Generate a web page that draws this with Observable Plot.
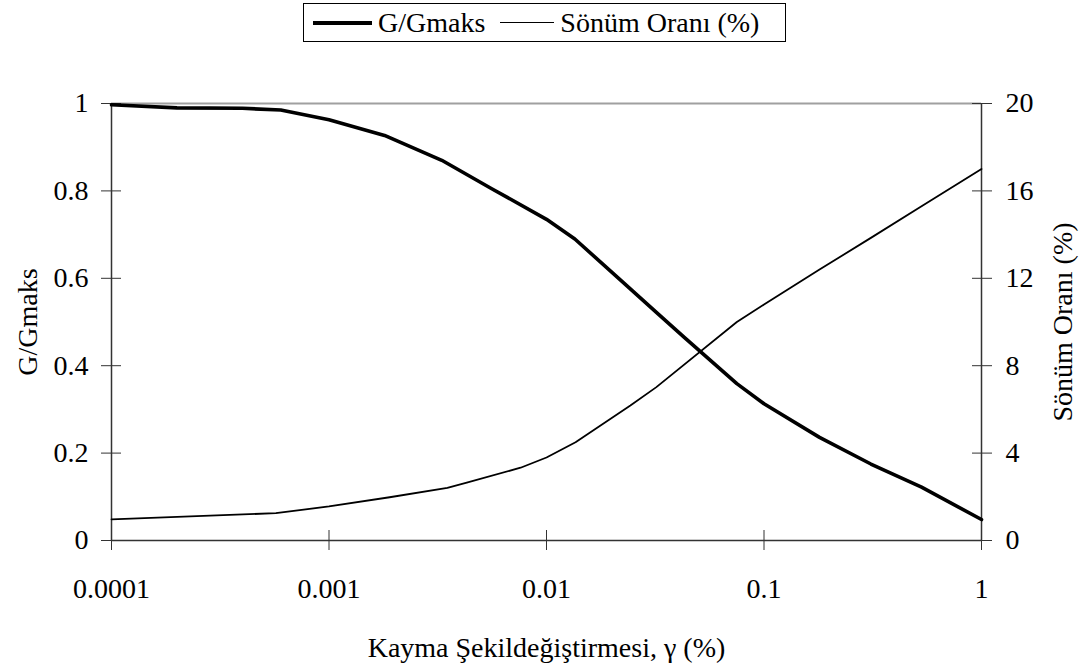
<!DOCTYPE html>
<html>
<head>
<meta charset="utf-8">
<script src="https://cdn.jsdelivr.net/npm/d3@7"></script>
<script src="https://cdn.jsdelivr.net/npm/@observablehq/plot@0.6"></script>
<style>
  html, body { margin: 0; padding: 0; background: #fff; }
  #wrap { position: relative; width: 1085px; height: 666px; font-family: "Liberation Serif", "Times New Roman", serif; }
  #legend { position: relative; height: 50px; }
  #legend .box { position: absolute; left: 303px; top: 3px; width: 481px; height: 37px; border: 1px solid #000;
    display: flex; align-items: center; font-size: 28px; color: #000; white-space: nowrap; }
  .sw { display: inline-block; background: #000; }
</style>
</head>
<body>
<div id="wrap">
  <div id="legend"><div class="box">
    <span class="sw" style="width:59px;height:4px;margin-left:9px;margin-right:6px"></span><span>G/Gmaks</span>
    <span class="sw" style="width:54px;height:1.6px;margin-left:15px;margin-right:6px"></span><span>Sönüm Oranı (%)</span>
  </div></div>
  <div id="chart"></div>
</div>
<script>
// Shear strain (%) and G/Gmax
const strainG = [0.0001, 0.0002, 0.0004, 0.0006, 0.001, 0.0018, 0.0033, 0.0056, 0.01, 0.0135, 0.024, 0.032, 0.043, 0.075, 0.1, 0.18, 0.31, 0.53, 1];
const gRatio  = [0.997, 0.990, 0.989, 0.985, 0.963, 0.927, 0.870, 0.805, 0.735, 0.690, 0.578, 0.522, 0.465, 0.359, 0.313, 0.236, 0.175, 0.122, 0.048];
// Shear strain (%) and damping ratio (%)
const strainD = [0.0001, 0.00057, 0.001, 0.0019, 0.0035, 0.0043, 0.0076, 0.01, 0.0136, 0.0243, 0.032, 0.075, 0.1, 0.18, 0.31, 0.53, 1];
const damping = [0.97, 1.25, 1.56, 1.98, 2.41, 2.65, 3.33, 3.8, 4.5, 6.18, 7.02, 10.0, 10.8, 12.4, 13.85, 15.3, 17.0];

const xTicks = [0.0001, 0.001, 0.01, 0.1, 1];
const xTickLabels = ["0.0001", "0.001", "0.01", "0.1", "1"];
const yLeftTicks = [0, 0.2, 0.4, 0.6, 0.8, 1];
const yLeftLabels = ["0", "0.2", "0.4", "0.6", "0.8", "1"];
const yRightLabels = ["0", "4", "8", "12", "16", "20"];
const dampMax = 20;

const gData = strainG.map((s, i) => ({s, v: gRatio[i]}));
const dData = strainD.map((s, i) => ({s, v: damping[i]}));

const axisColor = "#333";
const chart = Plot.plot({
  width: 1085,
  height: 616,
  marginLeft: 111,
  marginRight: 104,
  marginTop: 53,
  marginBottom: 126,
  style: {fontFamily: "'Liberation Serif', 'Times New Roman', serif", fontSize: "28px", color: "#000", background: "#fff"},
  x: {type: "log", domain: [0.0001, 1]},
  y: {domain: [0, 1]},
  marks: [
    Plot.ruleY([1], {stroke: "#a0a0a0", strokeWidth: 2}),
    // tick lines crossing the axes
    Plot.axisX({ticks: xTicks, tickSize: 20, dy: -10, tickFormat: () => "", stroke: axisColor, label: null}),
    Plot.axisY({ticks: yLeftTicks, tickSize: 20, dx: 10, tickFormat: () => "", stroke: axisColor, label: null}),
    Plot.axisY({anchor: "right", ticks: yLeftTicks, tickSize: 20, dx: -10, tickFormat: () => "", stroke: axisColor, label: null}),
    // tick labels
    Plot.axisX({ticks: xTicks, tickSize: 0, tickPadding: 38, tickFormat: (d, i) => xTickLabels[xTicks.indexOf(d)], label: null, fill: "#000"}),
    Plot.axisY({ticks: yLeftTicks, tickSize: 0, tickPadding: 23, tickFormat: d => yLeftLabels[yLeftTicks.indexOf(d)], label: null, fill: "#000"}),
    Plot.axisY({anchor: "right", ticks: yLeftTicks, tickSize: 0, tickPadding: 24, tickFormat: d => yRightLabels[yLeftTicks.indexOf(d)], label: null, fill: "#000"}),
    // frame
    Plot.ruleY([0], {stroke: axisColor, strokeWidth: 1.5}),
    Plot.ruleX([0.0001], {stroke: axisColor, strokeWidth: 1.5}),
    Plot.ruleX([1], {stroke: axisColor, strokeWidth: 1.5}),
    // series
    Plot.line(dData, {x: "s", y: d => d.v / dampMax, stroke: "#000", strokeWidth: 1.8}),
    Plot.line(gData, {x: "s", y: "v", stroke: "#000", strokeWidth: 3.6}),
    // axis titles
    Plot.text(["Kayma Şekildeğiştirmesi, γ (%)"], {frameAnchor: "bottom", dy: 108, lineAnchor: "middle", fill: "#000"}),
    Plot.text(["G/Gmaks"], {frameAnchor: "left", dx: -83, rotate: -90, lineAnchor: "middle", textAnchor: "middle", fill: "#000"}),
    Plot.text(["Sönüm Oranı (%)"], {frameAnchor: "right", dx: 82, rotate: -90, lineAnchor: "middle", textAnchor: "middle", fill: "#000"})
  ]
});
document.getElementById("chart").appendChild(chart);
</script>
</body>
</html>
